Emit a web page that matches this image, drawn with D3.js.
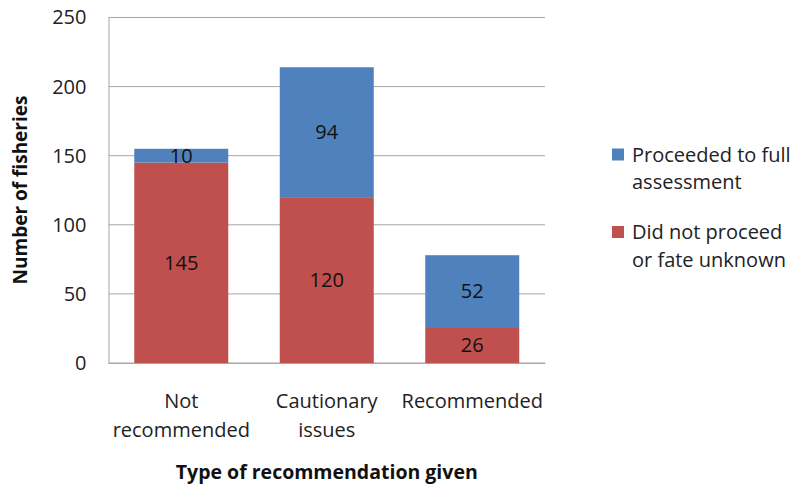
<!DOCTYPE html>
<html>
<head>
<meta charset="utf-8">
<script src="https://cdn.jsdelivr.net/npm/d3@7"></script>
<style>
  body { margin: 0; background: #fff; }
  svg { font-family: "Open Sans", sans-serif; }
</style>
</head>
<body>
<svg id="chart" width="800" height="486"></svg>
<script>
const categories = [["Not", "recommended"], ["Cautionary", "issues"], ["Recommended"]];
const didNotProceed = [145, 120, 26];
const proceeded = [10, 94, 52];
const seriesNames = [["Proceeded to full", "assessment"], ["Did not proceed", "or fate unknown"]];
const yTicks = [0, 50, 100, 150, 200, 250];

const width = 800, height = 486;
const margin = {top: 17.5, right: 255, bottom: 123, left: 108.5};

const svg = d3.select("#chart");

const keys = categories.map((c, i) => i);
const rows = keys.map(i => ({ i: i, red: didNotProceed[i], blue: proceeded[i] }));
const stack = d3.stack().keys(["red", "blue"])(rows);

const x = d3.scaleBand()
  .domain(keys)
  .range([margin.left, width - margin.right])
  .paddingInner(0.354)
  .paddingOuter(0.177);

const y = d3.scaleLinear()
  .domain([0, 250])
  .range([height - margin.bottom, margin.top]);

const colors = { red: "#C0504D", blue: "#4F81BD" };

// gridlines
svg.append("g")
  .selectAll("line")
  .data(yTicks)
  .enter()
  .append("line")
  .attr("x1", margin.left)
  .attr("x2", width - margin.right)
  .attr("y1", d => y(d))
  .attr("y2", d => y(d))
  .attr("stroke", "#a6a6a6")
  .attr("stroke-width", 1);

// y axis
const yAxis = svg.append("g")
  .attr("transform", `translate(${margin.left},0)`)
  .call(d3.axisLeft(y).tickValues(yTicks).tickSize(0).tickPadding(22));
yAxis.select(".domain").attr("stroke", "#a6a6a6");
yAxis.selectAll("text")
  .attr("font-size", 20)
  .attr("fill", "#222")
  .attr("font-family", "Open Sans, sans-serif");

// x axis
const xAxis = svg.append("g")
  .attr("transform", `translate(0,${y(0)})`)
  .call(d3.axisBottom(x).tickSize(0).tickFormat(""));
xAxis.select(".domain").attr("stroke", "#a6a6a6");

// bars
svg.append("g")
  .selectAll("g")
  .data(stack)
  .enter()
  .append("g")
  .attr("fill", d => colors[d.key])
  .selectAll("rect")
  .data(d => d)
  .enter()
  .append("rect")
  .attr("x", d => x(d.data.i))
  .attr("width", x.bandwidth())
  .attr("y", d => y(d[1]))
  .attr("height", d => y(d[0]) - y(d[1]));

// value labels
svg.append("g")
  .selectAll("g")
  .data(stack)
  .enter()
  .append("g")
  .selectAll("text")
  .data(d => d)
  .enter()
  .append("text")
  .attr("x", d => x(d.data.i) + x.bandwidth() / 2)
  .attr("y", d => y((d[0] + d[1]) / 2))
  .attr("dy", "0.35em")
  .attr("text-anchor", "middle")
  .attr("font-size", 20)
  .attr("fill", "#111")
  .text(d => d[1] - d[0]);

// category labels
svg.append("g")
  .selectAll("text")
  .data(categories)
  .enter()
  .append("text")
  .attr("x", (d, i) => x(i) + x.bandwidth() / 2)
  .attr("y", 408)
  .attr("text-anchor", "middle")
  .attr("font-size", 20)
  .attr("fill", "#222")
  .selectAll("tspan")
  .data(d => d)
  .enter()
  .append("tspan")
  .attr("x", function() { return d3.select(this.parentNode).attr("x"); })
  .attr("dy", (d, j) => j === 0 ? 0 : 29)
  .text(d => d);

// axis titles
svg.append("text")
  .attr("x", (margin.left + width - margin.right) / 2)
  .attr("y", 479)
  .attr("text-anchor", "middle")
  .attr("font-size", 19.5)
  .attr("font-weight", "bold")
  .attr("fill", "#111")
  .text("Type of recommendation given");

svg.append("text")
  .attr("transform", `translate(27,190) rotate(-90)`)
  .attr("text-anchor", "middle")
  .attr("font-size", 19)
  .attr("font-weight", "bold")
  .attr("fill", "#111")
  .text("Number of fisheries");

// legend
const legendColors = [colors.blue, colors.red];
const legend = svg.append("g")
  .selectAll("g")
  .data(seriesNames)
  .enter()
  .append("g")
  .attr("transform", (d, i) => `translate(612,${154.5 + i * 77.5})`);

legend.append("rect")
  .attr("x", 0)
  .attr("y", -6)
  .attr("width", 12)
  .attr("height", 12)
  .attr("fill", (d, i) => legendColors[i]);

legend.append("text")
  .attr("x", 20)
  .attr("y", 0)
  .attr("font-size", 20)
  .attr("fill", "#222")
  .selectAll("tspan")
  .data(d => d)
  .enter()
  .append("tspan")
  .attr("x", 20)
  .attr("dy", (d, j) => j === 0 ? "0.35em" : 27.5)
  .text(d => d);
</script>
</body>
</html>
